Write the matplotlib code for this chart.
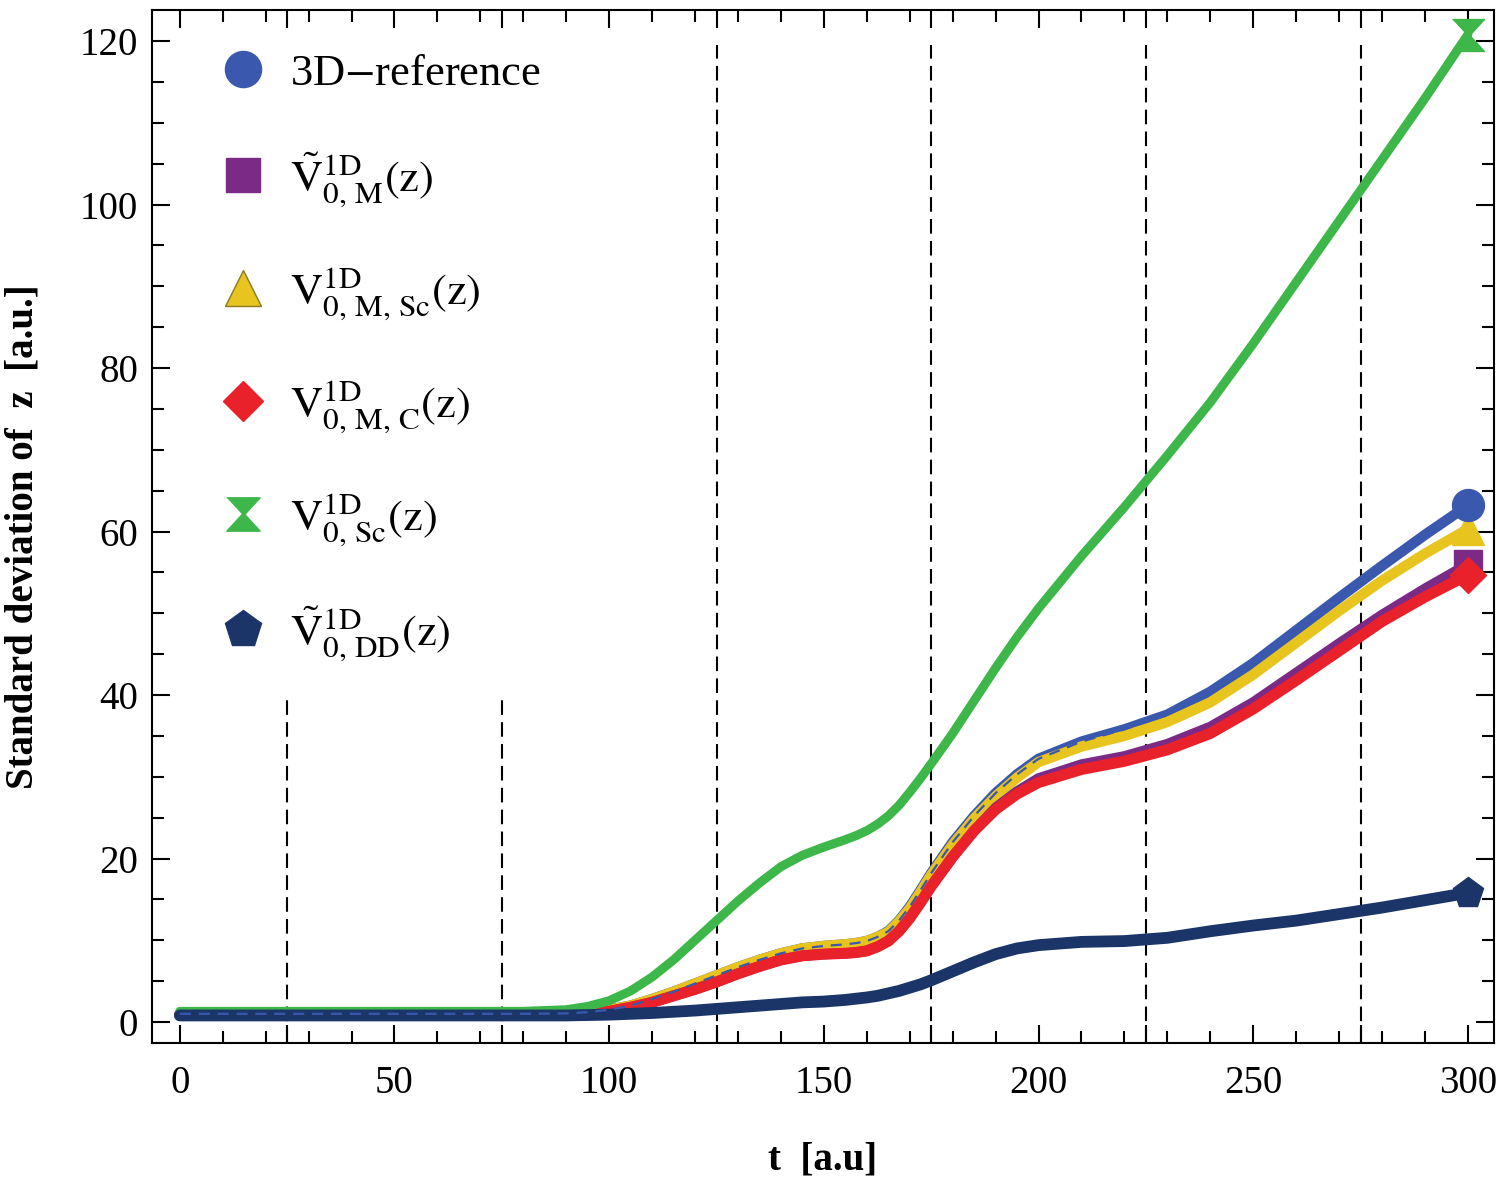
import numpy as np
import matplotlib
matplotlib.use("Agg")
import matplotlib.pyplot as plt
from matplotlib.lines import Line2D

plt.rcParams['font.family'] = ['Liberation Serif', 'DejaVu Serif']
plt.rcParams['mathtext.fontset'] = 'stix'

# time grid (a.u.)
t = [0, 10, 20, 30, 40, 50, 60, 70, 80, 90, 95, 100, 105, 110, 115, 120, 125,
     130, 135, 140, 145, 150, 155, 157.5, 160, 162.5, 165, 167.5, 170, 172.5,
     175, 180, 185, 190, 195, 200, 210, 220, 230, 240, 250, 260, 270, 280,
     290, 300]

# standard deviation of z for each model
sd_3d = [1.0, 1.0, 1.0, 1.0, 1.0, 1.0, 1.0, 1.0, 1.0, 1.05, 1.2, 1.5, 2.0, 2.8,
         3.7, 4.7, 5.7, 6.7, 7.6, 8.4, 9.0, 9.3, 9.5, 9.65, 9.9, 10.4, 11.1,
         12.4, 14.1, 16.1, 18.2, 22.0, 25.2, 28.0, 30.3, 32.2, 34.3, 35.8,
         37.6, 40.4, 43.9, 47.9, 51.9, 55.8, 59.6, 63.2]
sd_m_sc = [1.0, 1.0, 1.0, 1.0, 1.0, 1.0, 1.0, 1.0, 1.0, 1.05, 1.2, 1.5, 2.0,
           2.8, 3.7, 4.7, 5.7, 6.7, 7.6, 8.4, 9.0, 9.3, 9.5, 9.65, 9.9, 10.4,
           11.0, 12.3, 13.9, 15.9, 18.0, 21.7, 24.9, 27.6, 29.9, 31.8, 33.7,
           35.0, 36.7, 39.1, 42.5, 46.4, 50.3, 54.0, 57.3, 60.3]
sd_m = [0.9, 0.9, 0.9, 0.9, 0.9, 0.9, 0.9, 0.9, 0.9, 0.95, 1.1, 1.3, 1.8, 2.4,
        3.2, 4.0, 4.9, 5.9, 6.8, 7.6, 8.1, 8.3, 8.4, 8.5, 8.7, 9.2, 9.9, 11.1,
        12.7, 14.6, 16.6, 20.2, 23.4, 26.2, 28.2, 29.8, 31.5, 32.5, 34.0,
        36.1, 39.1, 42.7, 46.3, 49.8, 53.0, 56.0]
sd_m_c = [0.9, 0.9, 0.9, 0.9, 0.9, 0.9, 0.9, 0.9, 0.9, 0.95, 1.1, 1.3, 1.8, 2.4,
          3.2, 4.0, 4.9, 5.9, 6.8, 7.6, 8.1, 8.3, 8.4, 8.5, 8.7, 9.2, 9.9,
          11.1, 12.7, 14.6, 16.6, 20.2, 23.4, 26.0, 27.9, 29.3, 30.9, 31.9,
          33.3, 35.3, 38.3, 41.8, 45.4, 49.0, 52.0, 54.7]
sd_sc = [1.3, 1.3, 1.3, 1.3, 1.3, 1.3, 1.3, 1.3, 1.3, 1.5, 1.9, 2.6, 3.8, 5.5,
         7.6, 10.0, 12.4, 14.8, 17.0, 19.0, 20.4, 21.4, 22.3, 22.8, 23.4, 24.2,
         25.2, 26.5, 28.1, 29.8, 31.6, 35.3, 39.3, 43.3, 47.1, 50.6, 57.0,
         63.0, 69.3, 75.8, 83.0, 90.5, 98.0, 105.5, 113.0, 120.8]
sd_dd = [0.8, 0.8, 0.8, 0.8, 0.8, 0.8, 0.8, 0.8, 0.8, 0.8, 0.85, 0.9, 1.0, 1.1,
         1.25, 1.4, 1.6, 1.8, 2.0, 2.2, 2.4, 2.5, 2.7, 2.85, 3.0, 3.2, 3.5,
         3.8, 4.2, 4.6, 5.1, 6.2, 7.3, 8.3, 9.0, 9.4, 9.8, 9.9, 10.3, 11.1,
         11.8, 12.4, 13.2, 14.0, 14.9, 15.8]

labels = [r'3D$-$reference',
          r'$\tilde{\mathrm{V}}^{\mathrm{1D}}_{\mathrm{0,\,M}}(\mathrm{z})$',
          r'$\mathrm{V}^{\mathrm{1D}}_{\mathrm{0,\,M,\,Sc}}(\mathrm{z})$',
          r'$\mathrm{V}^{\mathrm{1D}}_{\mathrm{0,\,M,\,C}}(\mathrm{z})$',
          r'$\mathrm{V}^{\mathrm{1D}}_{\mathrm{0,\,Sc}}(\mathrm{z})$',
          r'$\tilde{\mathrm{V}}^{\mathrm{1D}}_{\mathrm{0,\,DD}}(\mathrm{z})$']

c_3d = '#3a58ad'
c_m = '#7b2a86'
c_msc = '#e8c41e'
c_mc = '#e9212a'
c_sc = '#3db64a'
c_dd = '#1b3569'

# hourglass marker: two triangles tip to tip
hourglass = [(-1, 1), (1, 1), (0.08, 0.0), (1, -1), (-1, -1), (-0.08, 0.0)]

fig = plt.figure(figsize=(15.04, 11.82), dpi=100)
ax = fig.add_axes([0.101, 0.1176, 0.8924, 0.8739])

lw = 7.5
ax.plot(t, sd_3d, color=c_3d, lw=lw, solid_capstyle='round', zorder=2)
ax.plot(t, sd_m_sc, color=c_msc, lw=lw, solid_capstyle='round', zorder=3)
ax.plot(t, sd_m, color=c_m, lw=lw, solid_capstyle='round', zorder=4)
ax.plot(t, sd_m_c, color=c_mc, lw=8, solid_capstyle='round', zorder=5)
ax.plot(t, sd_sc, color=c_sc, lw=6.5, solid_capstyle='round', zorder=6)
ax.plot(t, sd_dd, color=c_dd, lw=8.5, solid_capstyle='round', zorder=7)
ax.plot(t, sd_3d, color=c_3d, lw=1.6, ls=(0, (5, 3.5)), zorder=8)

# end markers
ms = 23
ax.plot(t[-1], sd_m_sc[-1], '^', color=c_msc, ms=ms, zorder=9)
ax.plot(t[-1], sd_3d[-1], 'o', color=c_3d, ms=ms, zorder=10)
ax.plot(t[-1], sd_m[-1], 's', color=c_m, ms=ms - 3, zorder=9)
ax.plot(t[-1], sd_m_c[-1], 'D', color=c_mc, ms=ms - 5, zorder=10)
ax.plot(t[-1], sd_sc[-1], marker=hourglass, color=c_sc, ms=ms, zorder=10)
ax.plot(t[-1], sd_dd[-1], 'p', color=c_dd, ms=ms, zorder=10)

# dashed guides
ax.vlines([25, 75], -2.6, 40, colors='black', lw=1.5, linestyles=(0, (7, 3.5)), zorder=1)
ax.vlines([125, 175, 225, 275], -2.6, 119.5, colors='black', lw=1.5,
          linestyles=(0, (7, 3.5)), zorder=1)

ax.set_xlim(-6.5, 306.1)
ax.set_ylim(-2.57, 123.8)

major_x = np.arange(0, 301, 25)
ax.set_xticks(major_x)
ax.set_xticklabels([str(v) if v % 50 == 0 else '' for v in major_x])
ax.set_xticks([v for v in range(10, 300, 10) if v % 50 != 0], minor=True)
ax.set_yticks(np.arange(0, 121, 20))
ax.set_yticks([v for v in range(0, 125, 5) if v % 20 != 0], minor=True)

ax.tick_params(which='both', direction='in', top=True, right=True,
               labelsize=28, width=1.5)
ax.tick_params(which='major', length=13)
ax.tick_params(which='minor', length=8.5)
ax.tick_params(axis='x', pad=16)
ax.tick_params(axis='y', pad=10)
for s in ax.spines.values():
    s.set_linewidth(1.5)

ax.set_xlabel('t  [a.u]', fontsize=28, fontweight='bold', labelpad=28)
ax.set_ylabel('Standard deviation of  z  [a.u.]', fontsize=28, fontweight='bold')
ax.yaxis.set_label_coords(-0.082, 0.49)

handles = [
    Line2D([], [], ls='none', marker='o', color=c_3d, ms=26),
    Line2D([], [], ls='none', marker='s', color=c_m, ms=24),
    Line2D([], [], ls='none', marker='^', color=c_msc, ms=26, mec='#8a7a20', mew=1),
    Line2D([], [], ls='none', marker='D', color=c_mc, ms=20),
    Line2D([], [], ls='none', marker=hourglass, color=c_sc, ms=24),
    Line2D([], [], ls='none', marker='p', color=c_dd, ms=28),
]
ax.legend(handles, labels, loc='upper left', bbox_to_anchor=(0.025, 0.992),
          frameon=False, fontsize=32, labelspacing=1.27, handlelength=1.0,
          handletextpad=0.55, borderpad=0.3)

fig.savefig('out.png', dpi=100)
